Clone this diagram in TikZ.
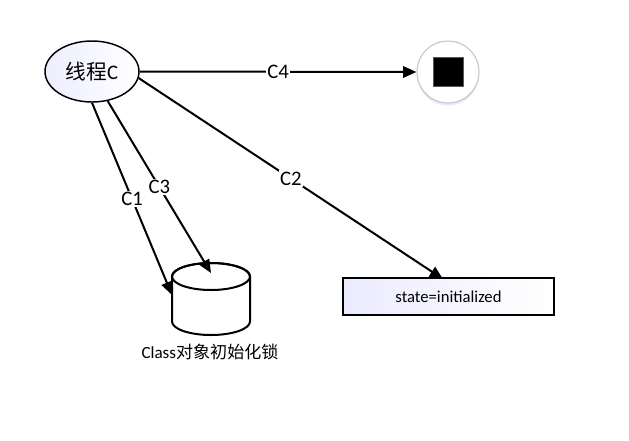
\documentclass[tikz,border=0pt]{standalone}
\usepackage{fontspec}
\setmainfont{Carlito}
\newfontfamily\cjk{Noto Sans CJK SC}
\usetikzlibrary{arrows.meta,shapes.geometric,shadows}
\begin{document}
\begin{tikzpicture}[
        x=0.75pt, y=-0.75pt,
        thread/.style={ellipse, draw, line width=1.1pt, inner sep=0pt,
          minimum width=70.5pt, minimum height=45.75pt, left color=blue!7, right color=white,
          font=\fontsize{15.5}{18}\selectfont},
        stopnode/.style={circle, draw=gray!45, line width=0.8pt, fill=white, minimum size=46.5pt,
          drop shadow={fill=blue!25, opacity=0.35, shadow xshift=0pt, shadow yshift=-2pt}},
        stopsq/.style={draw=gray!70!black, line width=0.8pt, fill=black, minimum size=22pt, inner sep=0pt},
        lockline/.style={draw, line width=1.5pt, fill=white},
        statebox/.style={rectangle, draw, line width=1.5pt, left color=blue!8, right color=white,
          minimum width=158pt, minimum height=27.75pt, font=\fontsize{12.5}{15}\selectfont},
        edge/.style={line width=1.5pt, -{Triangle[length=10pt, width=8.5pt]}},
        elabel/.style={fill=white, inner sep=1pt, font=\fontsize{15.5}{18}\selectfont}
      ]
      \useasboundingbox (0,0) rectangle (629,440);
      \node[thread] (t) at (92,71.5) {{\cjk 线程}C};
      \node[stopnode] (stop) at (448,72) {};
      \node[stopsq] (sq) at (448.5,72) {};
      % lock cylinder
      \path[lockline] (172,276.5) -- (172,321.5) arc (180:0:39 and 13.5)
        -- (250,276.5) arc (0:-180:39 and 13.5) -- cycle;
      \draw[line width=1.5pt] (211,276.5) ellipse (39 and 13.5);
      \coordinate (lid) at (211,273);
      \coordinate (side) at (172,295);
      \node[font=\fontsize{12.8}{15}\selectfont] (lkname) at (210,352) {Class{\cjk 对象初始化锁}};
      \node[statebox] (st) at (448.5,296.5) {state=initialized};
      \coordinate (stin) at (443,279);
      \draw[edge] (t.east) -- node[elabel] {C4} (stop.west);
      \draw[edge] (t.-8) -- node[elabel] {C2} (stin);
      \draw[edge] (t.south) -- node[elabel] {C1} (side);
      \draw[edge] (t.-62) -- node[elabel] {C3} (lid);
    \end{tikzpicture}
\end{document}
